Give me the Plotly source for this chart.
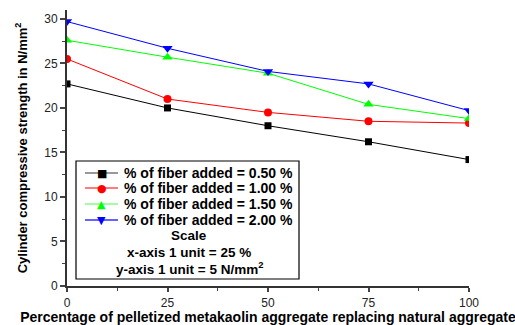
import plotly.graph_objects as go

x_vals = [0, 25, 50, 75, 100]
s050 = [22.7, 20.0, 18.0, 16.2, 14.2]
s100 = [25.5, 21.0, 19.5, 18.5, 18.3]
s150 = [27.6, 25.7, 23.9, 20.4, 18.8]
s200 = [29.7, 26.7, 24.1, 22.7, 19.7]
names = ["% of fiber added = 0.50 %", "% of fiber added = 1.00 %",
         "% of fiber added = 1.50 %", "% of fiber added = 2.00 %"]
colors = ["#000000", "#ff0000", "#00ff00", "#0000ff"]
key_line_colors = ["#777777", "#ff5050", "#80ff80", "#3030ff"]
symbols = ["square", "circle", "triangle-up", "triangle-down"]
glyphs = ["■", "●", "▲", "▼"]
msizes = [7, 8, 9, 9]
series = [s050, s100, s150, s200]
scale_lines = ["Scale", "x-axis 1 unit = 25 %", "y-axis 1 unit = 5 N/mm<sup>2</sup>"]

FONT = "Arial, Liberation Sans, sans-serif"
L, R, T, B = 67, 46, 10, 39
W, H = 515, 325
PW, PH = W - L - R, H - T - B


def px(xp):
    return (xp - L) / PW


def py(yp):
    return (H - B - yp) / PH


fig = go.Figure()
for n, c, s, ms, ys in zip(names, colors, symbols, msizes, series):
    fig.add_trace(go.Scatter(x=x_vals, y=ys, name=n, mode="lines+markers",
                             line=dict(color=c, width=1),
                             marker=dict(color=c, symbol=s, size=ms)))

fig.update_layout(
    width=W, height=H,
    margin=dict(l=L, r=R, t=T, b=B),
    paper_bgcolor="white", plot_bgcolor="white",
    font=dict(family=FONT, color="black", size=12),
    showlegend=False,
    xaxis=dict(range=[0, 100], tickvals=x_vals, ticks="outside", ticklen=4,
               tickwidth=1.5, showline=True, linewidth=2, linecolor="#333",
               showgrid=False, zeroline=False, automargin=False, ticklabelstandoff=1,
               minor=dict(tickvals=[12.5, 37.5, 62.5, 87.5], ticks="outside", ticklen=3, tickwidth=1),
               tickfont=dict(size=12, color="#222"),
               title=dict(text="<b>Percentage of pelletized metakaolin aggregate replacing natural aggregate</b>",
                          font=dict(size=14), standoff=3)),
    yaxis=dict(range=[0, 31], tickvals=[0, 5, 10, 15, 20, 25, 30], ticks="outside",
               ticklen=5, tickwidth=1.5, showline=True, linewidth=2, linecolor="#333",
               showgrid=False, zeroline=False, automargin=False,
               minor=dict(tickvals=[2.5, 7.5, 12.5, 17.5, 22.5, 27.5], ticks="outside", ticklen=3, tickwidth=1),
               tickfont=dict(size=12, color="#222"),
               title=dict(text="<b>Cylinder compressive strength in N/mm<sup>2</sup></b>",
                          font=dict(size=13), standoff=14)),
)

# legend box
fig.add_shape(type="rect", xref="paper", yref="paper",
              x0=px(76), x1=px(299), y0=py(279), y1=py(161),
              line=dict(color="black", width=1.2))

rows = [173, 188, 204, 220]
for n, c, lc, g, yp in zip(names, colors, key_line_colors, glyphs, rows):
    fig.add_shape(type="line", xref="paper", yref="paper",
                  x0=px(85), x1=px(118), y0=py(yp), y1=py(yp),
                  line=dict(color=lc, width=1.5))
    fig.add_annotation(xref="paper", yref="paper", x=px(101.5), y=py(yp),
                       text=g, showarrow=False, xanchor="center", yanchor="middle",
                       font=dict(size=11, color=c, family="DejaVu Sans"))
    fig.add_annotation(xref="paper", yref="paper", x=px(122), y=py(yp),
                       text="<b>" + n + "</b>", showarrow=False, xanchor="left", yanchor="middle",
                       font=dict(size=14, family=FONT))

for txt, ypix in zip(scale_lines, [235, 252, 268]):
    fig.add_annotation(xref="paper", yref="paper", x=px(189), y=py(ypix),
                       text="<b>" + txt + "</b>", showarrow=False, xanchor="center", yanchor="middle",
                       font=dict(size=13.5, family=FONT))

fig.write_html("out.html", config={"displayModeBar": False},
               post_script="document.body.style.margin='0px';")
